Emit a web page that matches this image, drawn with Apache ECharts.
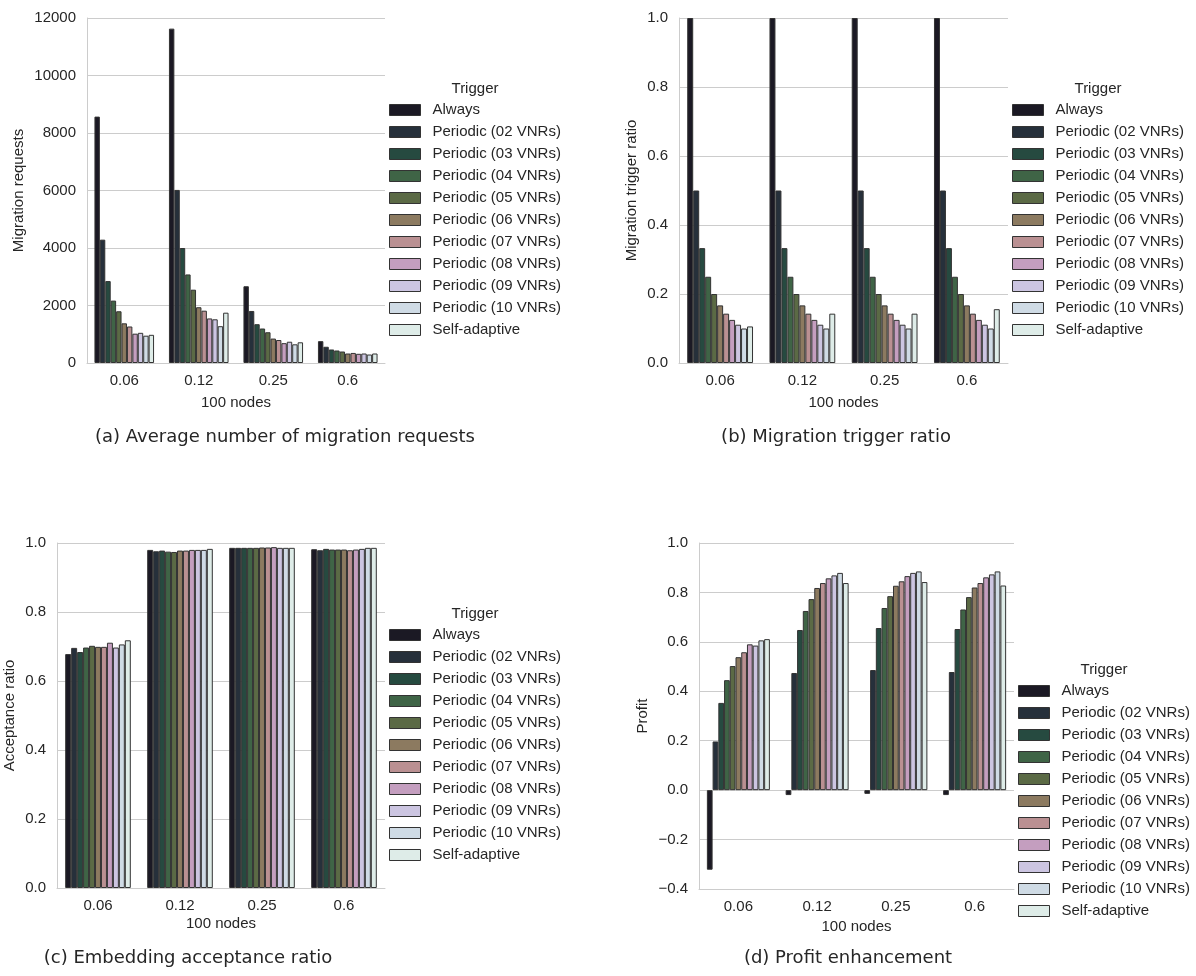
<!DOCTYPE html>
<html>
<head>
<meta charset="utf-8">
<script src="https://cdn.jsdelivr.net/npm/echarts@6/dist/echarts.min.js"></script>
<style>
  html, body { margin: 0; padding: 0; background: #fff; }
  #main { width: 1196px; height: 976px; }
</style>
</head>
<body>
<div id="main"></div>
<script>
// x categories (link load) and trigger names
const nodes = ['0.06', '0.12', '0.25', '0.6'];
const triggers = ['Always', 'Periodic (02 VNRs)', 'Periodic (03 VNRs)', 'Periodic (04 VNRs)',
  'Periodic (05 VNRs)', 'Periodic (06 VNRs)', 'Periodic (07 VNRs)', 'Periodic (08 VNRs)',
  'Periodic (09 VNRs)', 'Periodic (10 VNRs)', 'Self-adaptive'];
const colors = ['#1b1924', '#26303b', '#264a40', '#3f6446', '#5b6a45', '#8c7a60',
  '#ba9092', '#c49ebf', '#ccc5e1', '#cfdbe5', '#deece8'];

// (a) migration requests, one row per trigger, one value per node category
const requestsData = [
  [8570, 11630, 2670, 760],
  [4290, 6020, 1810, 565],
  [2850, 4000, 1350, 470],
  [2170, 3080, 1200, 435],
  [1800, 2550, 1070, 400],
  [1380, 1940, 850, 330],
  [1270, 1820, 800, 350],
  [1020, 1550, 690, 320],
  [1050, 1520, 740, 330],
  [950, 1280, 650, 295],
  [980, 1750, 720, 330]
];
// (b) migration trigger ratio
const triggerData = [
  [1, 1, 1, 1],
  [0.5, 0.5, 0.5, 0.5],
  [0.333, 0.333, 0.333, 0.333],
  [0.25, 0.25, 0.25, 0.25],
  [0.2, 0.2, 0.2, 0.2],
  [0.167, 0.167, 0.167, 0.167],
  [0.143, 0.143, 0.143, 0.143],
  [0.125, 0.125, 0.125, 0.125],
  [0.111, 0.111, 0.111, 0.111],
  [0.1, 0.1, 0.1, 0.1],
  [0.106, 0.143, 0.143, 0.156]
];
// (c) acceptance ratio
const acceptData = [
  [0.678, 0.980, 0.986, 0.982],
  [0.696, 0.976, 0.986, 0.979],
  [0.684, 0.978, 0.986, 0.983],
  [0.697, 0.975, 0.986, 0.981],
  [0.702, 0.974, 0.986, 0.981],
  [0.699, 0.978, 0.987, 0.981],
  [0.699, 0.978, 0.987, 0.979],
  [0.711, 0.980, 0.988, 0.981],
  [0.697, 0.980, 0.986, 0.983],
  [0.706, 0.980, 0.986, 0.986],
  [0.718, 0.983, 0.986, 0.986]
];
// (d) profit
const profitData = [
  [-0.322, -0.02, -0.015, -0.02],
  [0.197, 0.474, 0.486, 0.478],
  [0.353, 0.648, 0.656, 0.652],
  [0.445, 0.725, 0.737, 0.731],
  [0.502, 0.773, 0.785, 0.781],
  [0.538, 0.818, 0.827, 0.820],
  [0.558, 0.838, 0.845, 0.838],
  [0.590, 0.857, 0.866, 0.861],
  [0.585, 0.869, 0.879, 0.873],
  [0.606, 0.879, 0.885, 0.885],
  [0.611, 0.838, 0.842, 0.828]
];

const font = 'Liberation Sans, Arial, sans-serif';
const textColor = '#262626';
const gridColor = '#cccccc';

function fmt1(v) {
  return v.toFixed(1).replace('-', '\u2212');
}

function makeSeries(data, idx) {
  return triggers.map(function (name, i) {
    return {
      type: 'bar',
      name: name,
      xAxisIndex: idx,
      yAxisIndex: idx,
      data: data[i],
      barGap: '0%',
      barCategoryGap: '20%',
      itemStyle: { color: colors[i], borderColor: '#333333', borderWidth: 1 },
      emphasis: { disabled: true }
    };
  });
}

function makeX(idx, gap) {
  return {
    type: 'category',
    gridIndex: idx,
    data: nodes,
    axisLine: { show: true, onZero: false, lineStyle: { color: gridColor, width: 1 } },
    axisTick: { show: false },
    axisLabel: { fontSize: 15, color: textColor, margin: 10, fontFamily: font },
    name: '100 nodes',
    nameLocation: 'middle',
    nameGap: gap,
    nameTextStyle: { fontSize: 15, color: textColor, fontFamily: font }
  };
}

function makeY(idx, name, gap, min, max, interval, formatter) {
  return {
    type: 'value',
    gridIndex: idx,
    min: min,
    max: max,
    interval: interval,
    axisLine: { show: true, lineStyle: { color: gridColor, width: 1 } },
    axisTick: { show: false },
    splitLine: { show: true, lineStyle: { color: gridColor, width: 1 } },
    axisLabel: { fontSize: 15, color: textColor, margin: 11, fontFamily: font, formatter: formatter },
    name: name,
    nameLocation: 'middle',
    nameGap: gap,
    nameTextStyle: { fontSize: 15, color: textColor, fontFamily: font }
  };
}

function makeLegend(left, top) {
  return {
    data: triggers,
    orient: 'vertical',
    left: left,
    top: top,
    padding: 0,
    itemWidth: 31,
    itemHeight: 11,
    itemGap: 6,
    icon: 'rect',
    selectedMode: false,
    itemStyle: { borderColor: '#333333', borderWidth: 1 },
    textStyle: { fontSize: 15, color: textColor, fontFamily: font, lineHeight: 16, padding: [0, 0, 0, 7] }
  };
}

function label(x, y, text, size, family) {
  return {
    type: 'text',
    x: x,
    y: y,
    style: {
      text: text,
      fontSize: size,
      fontFamily: family,
      fill: textColor,
      align: 'center',
      verticalAlign: 'middle'
    }
  };
}

const chart = echarts.init(document.getElementById('main'), null, { renderer: 'canvas' });

const option = {
  backgroundColor: '#ffffff',
  animation: false,
  grid: [
    { left: 87, top: 18, width: 298, height: 345 },
    { left: 679, top: 18, width: 329, height: 345 },
    { left: 57, top: 543, width: 328, height: 345 },
    { left: 699, top: 543, width: 315, height: 346 }
  ],
  xAxis: [makeX(0, 32), makeX(1, 32), makeX(2, 28), makeX(3, 30)],
  yAxis: [
    makeY(0, 'Migration requests', 61, 0, 12000, 2000, function (v) { return String(v); }),
    makeY(1, 'Migration trigger ratio', 40, 0, 1, 0.2, fmt1),
    makeY(2, 'Acceptance ratio', 40, 0, 1, 0.2, fmt1),
    makeY(3, 'Profit', 49, -0.4, 1, 0.2, fmt1)
  ],
  legend: [
    makeLegend(389, 102),
    makeLegend(1012, 102),
    makeLegend(389, 627),
    makeLegend(1018, 683)
  ],
  graphic: [
    label(475, 89, 'Trigger', 15, font),
    label(1098, 89, 'Trigger', 15, font),
    label(475, 614, 'Trigger', 15, font),
    label(1104, 670, 'Trigger', 15, font),
    label(285, 437, '(a) Average number of migration requests', 18, 'DejaVu Sans'),
    label(836, 437, '(b) Migration trigger ratio', 18, 'DejaVu Sans'),
    label(188, 958, '(c) Embedding acceptance ratio', 18, 'DejaVu Sans'),
    label(848, 958, '(d) Profit enhancement', 18, 'DejaVu Sans')
  ],
  series: [].concat(
    makeSeries(requestsData, 0),
    makeSeries(triggerData, 1),
    makeSeries(acceptData, 2),
    makeSeries(profitData, 3)
  )
};

chart.setOption(option);
</script>
</body>
</html>
